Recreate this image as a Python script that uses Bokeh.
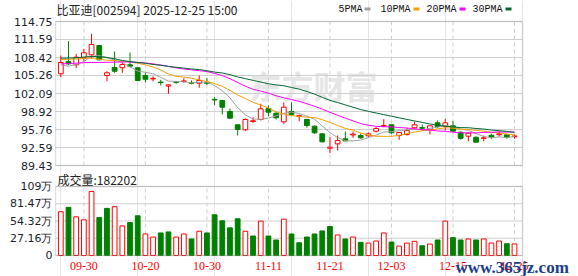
from bokeh.plotting import figure
from bokeh.layouts import column
from bokeh.models import (Range1d, FixedTicker, Label, LabelSet, BoxAnnotation,
                          ColumnDataSource)
from bokeh.embed import file_html
from bokeh.resources import INLINE

# ---------------- data ----------------
dates = ["09-25", "09-26", "09-29", "09-30", "10-09", "10-10", "10-13", "10-14", "10-15", "10-16",
         "10-17", "10-20", "10-21", "10-22", "10-23", "10-24", "10-27", "10-28", "10-29", "10-30",
         "10-31", "11-03", "11-04", "11-05", "11-06", "11-07", "11-10", "11-11", "11-12", "11-13",
         "11-14", "11-17", "11-18", "11-19", "11-20", "11-21", "11-24", "11-25", "11-26", "11-27",
         "11-28", "12-01", "12-02", "12-03", "12-04", "12-05", "12-08", "12-09", "12-10", "12-11",
         "12-12", "12-15", "12-16", "12-17", "12-18", "12-19", "12-22", "12-23", "12-24", "12-25"]

open_ = [105.55, 107.70, 107.14, 108.37, 108.89, 110.53, 105.25, 106.66, 106.61, 107.14,
         106.61, 105.25, 104.65, 104.10, 103.40, 104.15, 104.20, 104.00, 103.90, 104.05,
         101.05, 100.86, 98.92, 96.59, 95.71, 97.15, 97.52, 99.45, 98.62, 97.11,
         98.92, 98.05, 97.52, 96.34, 95.00, 92.47, 93.24, 94.13, 94.80, 94.70,
         94.65, 95.46, 96.35, 96.59, 94.70, 94.88, 96.06, 96.10, 95.71, 96.94,
         96.29, 96.41, 95.29, 94.58, 94.40, 94.20, 94.75, 94.85, 94.82, 94.50]
high = [108.77, 111.30, 109.07, 109.95, 112.59, 110.60, 106.01, 109.47, 107.59, 109.30,
        106.72, 105.66, 105.13, 104.50, 103.65, 104.30, 104.78, 104.40, 105.25, 104.80,
        101.44, 100.98, 99.45, 96.64, 97.70, 97.92, 100.28, 99.98, 98.80, 100.51,
        100.51, 98.35, 97.64, 96.46, 95.11, 94.40, 94.70, 95.41, 95.41, 95.10,
        95.23, 96.17, 97.57, 96.64, 95.30, 96.06, 97.17, 96.64, 96.41, 97.34,
        97.64, 97.22, 95.41, 95.29, 94.53, 94.70, 95.00, 95.41, 95.00, 94.88]
low = [104.96, 107.10, 106.54, 107.72, 108.19, 107.90, 104.25, 105.73, 105.73, 106.70,
       104.25, 104.02, 104.20, 103.50, 102.04, 103.80, 103.98, 103.70, 103.09, 103.60,
       100.03, 98.40, 97.70, 94.70, 95.53, 96.94, 97.34, 98.10, 97.52, 96.76,
       98.22, 97.22, 96.06, 95.00, 93.47, 91.60, 92.07, 93.75, 94.30, 94.13,
       94.40, 95.23, 96.17, 95.00, 93.95, 94.70, 95.88, 95.58, 94.88, 96.06,
       95.58, 95.35, 94.00, 93.70, 93.47, 93.70, 94.13, 94.53, 94.13, 94.13]
close = [107.54, 107.30, 108.47, 109.25, 110.71, 108.02, 105.73, 106.01, 107.19, 106.89,
         104.38, 104.60, 104.75, 104.00, 103.60, 104.05, 104.30, 103.90, 104.38, 103.90,
         100.95, 99.68, 97.75, 95.76, 97.52, 97.30, 99.40, 98.80, 97.82, 99.68,
         98.40, 98.20, 96.46, 95.18, 93.60, 92.65, 93.82, 93.75, 94.95, 94.30,
         95.00, 95.94, 96.45, 95.18, 95.25, 95.58, 96.59, 95.98, 96.41, 96.29,
         96.94, 95.46, 94.20, 95.11, 93.53, 94.30, 94.40, 95.00, 94.40, 94.62]
# volume in 万 (10k lots)
volume_wan = [68.9, 75.8, 60.9, 56.2, 100.7, 59.9, 74.2, 76.8, 46.6, 51.9,
              62.5, 33.9, 29.1, 35.5, 37.1, 29.1, 33.9, 26.0, 38.2, 35.5,
              64.1, 54.6, 43.5, 57.8, 38.2, 30.7, 54.1, 30.7, 24.4, 57.2,
              33.9, 20.1, 29.1, 33.9, 38.7, 45.6, 32.3, 26.0, 29.1, 20.7,
              19.6, 22.8, 35.5, 21.2, 14.8, 19.6, 22.3, 15.4, 18.0, 24.4,
              54.1, 28.1, 24.4, 26.0, 24.4, 26.0, 19.6, 22.8, 18.5, 18.22]

ma5 = [107.10, 106.90, 107.20, 107.70, 108.65, 108.75, 108.44, 107.94, 107.53, 106.77,
       106.04, 105.81, 105.56, 104.92, 104.27, 104.20, 104.14, 103.97, 104.05, 104.11,
       103.49, 102.56, 101.33, 99.61, 98.33, 97.60, 97.55, 97.76, 98.17, 98.60,
       98.82, 98.58, 98.11, 97.58, 96.37, 95.22, 94.34, 93.80, 93.75, 93.89,
       94.36, 94.79, 95.33, 95.37, 95.56, 95.68, 95.81, 95.71, 95.96, 96.17,
       96.44, 96.22, 95.86, 95.60, 95.05, 94.52, 94.31, 94.47, 94.33, 94.54]
ma10 = [108.05, 108.10, 108.15, 108.25, 108.30, 108.10, 107.95, 107.85, 107.75, 107.71,
        107.40, 107.13, 106.75, 106.23, 105.52, 105.12, 104.98, 104.77, 104.49, 104.19,
        103.84, 103.35, 102.65, 101.83, 101.22, 100.54, 100.05, 99.54, 98.89, 98.47,
        98.21, 98.06, 97.93, 97.88, 97.48, 97.02, 96.46, 95.96, 95.67, 95.13,
        94.79, 94.57, 94.56, 94.56, 94.73, 95.02, 95.30, 95.52, 95.67, 95.87,
        96.06, 96.01, 95.79, 95.78, 95.61, 95.48, 95.26, 95.16, 94.96, 94.80]
ma20 = [107.30, 107.35, 107.42, 107.50, 107.54, 107.55, 107.57, 107.60, 107.65, 107.62,
        107.55, 107.45, 107.30, 107.10, 106.85, 106.60, 106.40, 106.25, 106.10, 105.95,
        105.62, 105.24, 104.70, 104.03, 103.37, 102.83, 102.52, 102.16, 101.69, 101.33,
        101.03, 100.71, 100.29, 99.85, 99.35, 98.78, 98.26, 97.75, 97.28, 96.80,
        96.50, 96.31, 96.25, 96.22, 96.11, 96.02, 95.88, 95.74, 95.67, 95.50,
        95.43, 95.29, 95.18, 95.17, 95.17, 95.25, 95.28, 95.34, 95.31, 95.33]
ma30 = [108.30, 108.33, 108.37, 108.50, 108.60, 108.60, 108.40, 108.20, 107.90, 107.70,
        107.55, 107.40, 107.20, 107.05, 106.85, 106.70, 106.55, 106.40, 106.30, 106.10,
        105.85, 105.70, 105.40, 105.00, 104.70, 104.40, 104.10, 103.80, 103.60, 103.45,
        103.15, 102.85, 102.45, 101.98, 101.41, 100.89, 100.50, 100.09, 99.68, 99.26,
        98.95, 98.66, 98.38, 98.09, 97.81, 97.53, 97.27, 97.01, 96.74, 96.49,
        96.35, 96.21, 96.09, 96.07, 95.94, 95.84, 95.67, 95.55, 95.43, 95.26]

price_ticks = [89.43, 92.59, 95.76, 98.92, 102.09, 105.26, 108.42, 111.59, 114.75]
price_tick_labels = ["89.43", "92.59", "95.76", "98.92", "102.09", "105.26", "108.42", "111.59", "114.75"]
vol_ticks = [0, 27.16, 54.32, 81.47, 108.64]
vol_tick_labels = ["0", "27.16万", "54.32万", "81.47万", "109万"]
date_label_idx = [3, 11, 19, 27, 35, 43, 51, 59]

title_text = "比亚迪[002594] 2025-12-25 15:00"
vol_title = "成交量:182202"
legend_names = ["5PMA", "10PMA", "20PMA", "30PMA"]
watermark = "东方财富"
site_mark = "www.365jz.com"

# ---------------- styles / layout constants ----------------
UP = "#ff0000"
DOWN = "#008000"
MA_COLORS = ["#a0a0a0", "#f0a000", "#ff00ff", "#006633"]
GRID = "#cfcfcf"
BORDER = "#999999"
LABEL_COLOR = "#1e1e2a"

W = 578
LEFT = 54                          # frame starts 1px left of the inner box
BOX_L, BOX_R = 55, 522             # canvas x of the inner boxes
X_LO, X_HI = -0.69, 60.04          # inner box edges (index units)
P_PX = 144 / (price_ticks[-1] - price_ticks[0])   # px per price unit
V_PX = 69 / vol_ticks[-1]                          # px per 万

n = len(close)
idx = list(range(n))
is_up = [c >= o for o, c in zip(open_, close)]
candle_src = ColumnDataSource(dict(
    x=idx, high=high, low=low,
    top=[max(o, c) for o, c in zip(open_, close)],
    bottom=[min(o, c) for o, c in zip(open_, close)],
    color=[UP if u else DOWN for u in is_up],
    fill=["#ffffff" if u else DOWN for u in is_up],
))
vol_up = [(close[i] >= (close[i - 1] if i > 0 else open_[i])) for i in range(n)]
vol_src = ColumnDataSource(dict(
    x=idx, v=volume_wan,
    color=[UP if u else DOWN for u in vol_up],
    fill=["#ffffff" if u else DOWN for u in vol_up],
))
k = len(date_label_idx)

# both frames run from canvas x 54 to the right canvas edge
px_per_x = (BOX_R - BOX_L) / (X_HI - X_LO)
x_start = X_LO - (BOX_L - LEFT) / px_per_x
xr = Range1d(x_start, x_start + (W - LEFT) / px_per_x)

# ---------------- price panel (frame spans canvas y 0..172) ----------------
p1 = figure(width=W, height=172, x_range=xr,
            y_range=Range1d(price_ticks[0] - 7 / P_PX, price_ticks[-1] + 21 / P_PX),
            output_backend="svg", toolbar_location=None, x_axis_location=None,
            min_border_left=LEFT, min_border_right=0, min_border_top=0, min_border_bottom=0)
p1.outline_line_color = None
p1.yaxis.ticker = FixedTicker(ticks=price_ticks)
p1.yaxis.major_label_overrides = {t: s for t, s in zip(price_ticks, price_tick_labels)}
p1.ygrid.grid_line_color = None

# screen units: relative to the plot frame, y measured up from frame bottom
p1.add_layout(Label(x=195, y=88, x_units="screen", y_units="screen", text=watermark,
                    text_font="Noto Sans CJK SC", text_font_style="bold", text_font_size="32px",
                    text_color="#e6e6e6", text_baseline="middle", level="image"))

npx = len(price_ticks)
p1.segment(x0=[X_LO] * npx, y0=price_ticks, x1=[X_HI] * npx, y1=price_ticks,
           line_color=GRID, line_width=1)
p1.segment(x0=date_label_idx, y0=[price_ticks[0]] * k, x1=date_label_idx, y1=[price_ticks[-1]] * k,
           line_color=GRID, line_dash="4 3", line_width=1)
p1.segment(x0="x", y0="high", x1="x", y1="low", color="color", line_width=1, source=candle_src)
p1.vbar(x="x", width=0.62, top="top", bottom="bottom", fill_color="fill",
        line_color="color", line_width=1, source=candle_src)
for arr, col in zip([ma5, ma10, ma20, ma30], MA_COLORS):
    p1.line(idx, arr, line_color=col, line_width=1)

p1.add_layout(BoxAnnotation(left=X_LO, right=X_HI, bottom=price_ticks[0], top=price_ticks[-1],
                            fill_color=None, fill_alpha=0, line_color=BORDER, line_width=1.5))

p1.add_layout(Label(x=2, y=163.5, x_units="screen", y_units="screen", text=title_text,
                    text_font="Noto Sans CJK SC", text_font_size="12px", text_color="#222222",
                    text_baseline="middle"))
legend_x = [284, 326, 372, 418]
marker_x = [310, 359, 405, 451]
for name, lx, mx, col in zip(legend_names, legend_x, marker_x, MA_COLORS):
    p1.add_layout(Label(x=lx, y=163.5, x_units="screen", y_units="screen", text=name,
                        text_font="Liberation Mono", text_font_size="10px", text_color="#111111",
                        text_baseline="middle"))
    p1.add_layout(BoxAnnotation(left=mx, right=mx + 6, top=165, bottom=162,
                                left_units="screen", right_units="screen",
                                bottom_units="screen", top_units="screen",
                                fill_color=col, fill_alpha=1, line_color=None))

# ---------------- volume panel (frame spans canvas y 172..276) ----------------
p2 = figure(width=W, height=104, x_range=xr,
            y_range=Range1d(vol_ticks[0] - 21 / V_PX, vol_ticks[-1] + 14 / V_PX),
            output_backend="svg", toolbar_location=None, x_axis_location=None,
            min_border_left=LEFT, min_border_right=0, min_border_top=0, min_border_bottom=0)
p2.outline_line_color = None
p2.yaxis.ticker = FixedTicker(ticks=vol_ticks)
p2.yaxis.major_label_overrides = {t: s for t, s in zip(vol_ticks, vol_tick_labels)}
p2.ygrid.grid_line_color = None

nv = len(vol_ticks)
p2.segment(x0=[X_LO] * nv, y0=vol_ticks, x1=[X_HI] * nv, y1=vol_ticks,
           line_color=GRID, line_width=1)
p2.segment(x0=date_label_idx, y0=[vol_ticks[0]] * k, x1=date_label_idx, y1=[vol_ticks[-1]] * k,
           line_color=GRID, line_dash="4 3", line_width=1)
p2.vbar(x="x", width=0.62, top="v", bottom=0, fill_color="fill", line_color="color",
        line_width=1, source=vol_src)
p2.add_layout(BoxAnnotation(left=X_LO, right=X_HI, bottom=vol_ticks[0], top=vol_ticks[-1],
                            fill_color=None, fill_alpha=0, line_color=BORDER, line_width=1.5))

date_src = ColumnDataSource(dict(x=date_label_idx, label=[dates[i] for i in date_label_idx]))
p2.add_layout(LabelSet(x="x", y=11, y_units="screen", text="label", source=date_src,
                       text_font="Liberation Sans", text_font_size="12px", text_color="#ff0000",
                       text_align="center", text_baseline="middle"))

p2.add_layout(Label(x=3, y=97.5, x_units="screen", y_units="screen", text=vol_title,
                    text_font="Noto Sans CJK SC", text_font_size="12px", text_color="#222222",
                    text_baseline="middle"))
p2.add_layout(Label(x=401, y=9, x_units="screen", y_units="screen", text=site_mark,
                    text_font="Liberation Serif", text_font_style="bold", text_font_size="17px",
                    text_color="#1b3f8b", text_baseline="alphabetic"))

for p in (p1, p2):
    for ax in p.yaxis:
        ax.axis_line_color = None
        ax.major_tick_line_color = None
        ax.minor_tick_line_color = None
        ax.major_tick_in = 0
        ax.major_tick_out = 0
        ax.major_label_standoff = 2
        ax.major_label_text_font = "DejaVu Sans"
        ax.major_label_text_font_size = "11px"
        ax.major_label_text_color = LABEL_COLOR
    p.background_fill_color = "#ffffff"
    p.border_fill_color = "#ffffff"

layout = column(p1, p2, spacing=0)
open("out.html", "w").write(file_html(layout, INLINE))
